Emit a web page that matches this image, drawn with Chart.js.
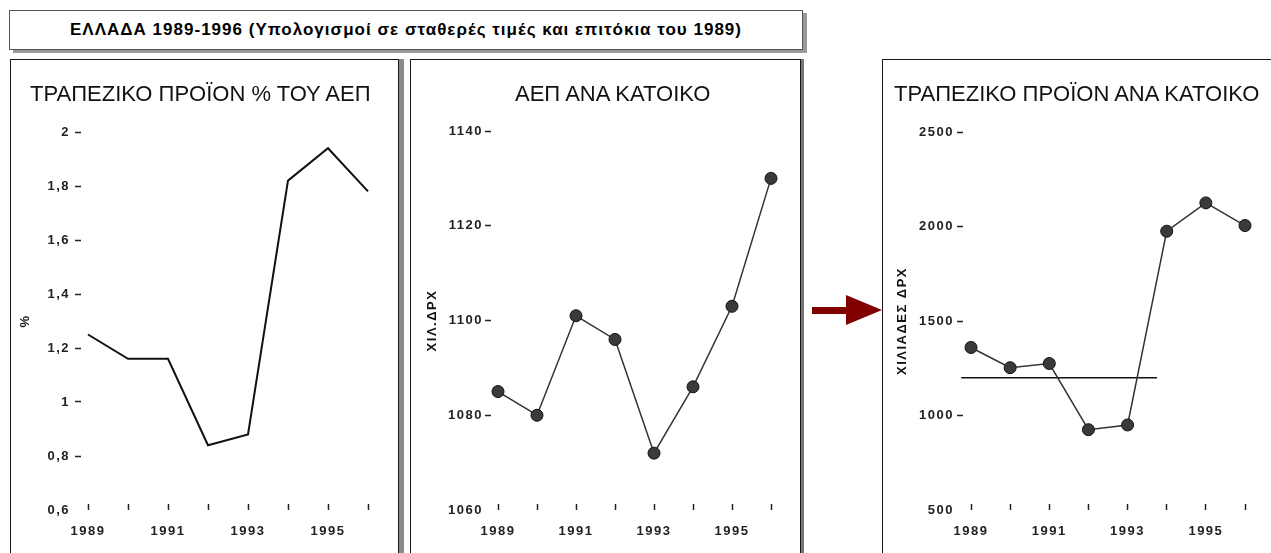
<!DOCTYPE html>
<html>
<head>
<meta charset="utf-8">
<script src="https://cdn.jsdelivr.net/npm/chart.js@4.4.1/dist/chart.umd.min.js"></script>
<style>
    body { margin: 0; width: 1271px; height: 553px; overflow: hidden; background: #fff; position: relative; font-family: Arial, "Liberation Sans", sans-serif; }
    .box { position: absolute; box-sizing: border-box; border: 1px solid #1a1a1a; background: #fff; }
    .box canvas { position: absolute; left: 0; top: 0; }
    #head { left: 9px; top: 10px; width: 794px; height: 40px; border-color: #555; box-shadow: 4px 3px 0 #999; }
    #head span { position: absolute; left: 50%; top: 50%; white-space: nowrap; font-weight: bold; font-size: 17px; letter-spacing: 1px; color: #000; }
    #p1 { left: 10px; top: 59px; width: 389px; height: 600px; box-shadow: 5px 0 0 #8a8a8a; }
    #p2 { left: 410px; top: 59px; width: 391px; height: 600px; box-shadow: 3px 0 0 #777; }
    #p3 { left: 882px; top: 59px; width: 420px; height: 600px; }
    .ptitle { position: absolute; top: 83px; line-height: 22px; font-size: 22px; color: #111; white-space: nowrap; }
    #arrow { position: absolute; left: 810px; top: 292px; }
</style>
</head>
<body>
<div class="box" id="head"><span id="headText">ΕΛΛΑΔΑ 1989-1996 (Υπολογισμοί σε σταθερές τιμές και επιτόκια του 1989)</span></div>
<div class="box" id="p1"><canvas id="c1" width="387" height="493"></canvas></div>
<div class="box" id="p2"><canvas id="c2" width="389" height="493"></canvas></div>
<div class="box" id="p3"><canvas id="c3" width="388" height="493"></canvas></div>
<div class="ptitle" style="left:30px">ΤΡΑΠΕΖΙΚΟ ΠΡΟΪΟΝ % ΤΟΥ ΑΕΠ</div>
<div class="ptitle" style="left:515px">ΑΕΠ ΑΝΑ ΚΑΤΟΙΚΟ</div>
<div class="ptitle" style="left:894px">ΤΡΑΠΕΖΙΚΟ ΠΡΟΪΟΝ ΑΝΑ ΚΑΤΟΙΚΟ</div>
<svg id="arrow" width="74" height="36">
    <polygon points="2,15 36,15 36,3 72,18 36,33 36,22 2,22" fill="#800000" />
</svg>
<script>
// data
const years = [1989, 1990, 1991, 1992, 1993, 1994, 1995, 1996];
const yearLabels = ["1989", "", "1991", "", "1993", "", "1995", ""];
const bankShareOfGdp = [1.25, 1.16, 1.16, 0.84, 0.88, 1.82, 1.94, 1.78];
const gdpPerCapita = [1085, 1080, 1101, 1096, 1072, 1086, 1103, 1130];
const bankPerCapita = [1360, 1253, 1275, 925, 950, 1975, 2125, 2005];
const refLineYears = [1988.75, 1993.75];
const refLineValue = 1200;

// squeeze the heading into the box
const head = document.getElementById("headText");
const hw = head.getBoundingClientRect().width;
head.style.transform = `translate(-50%, -50%) scaleX(${672 / hw})`;

const spacing = {
    id: "spacing",
    beforeDraw(chart) { chart.ctx.letterSpacing = "1.5px"; },
    afterDraw(chart) { chart.ctx.letterSpacing = "0px"; },
};

const tickFont = { family: "Arial, 'Liberation Sans'", size: 13, weight: "bold" };

function pts(xs, ys) {
    return xs.map((x, i) => ({ x, y: ys[i] }));
}

function makeChart(id, o) {
    return new Chart(document.getElementById(id), {
        type: "line",
        data: { datasets: o.datasets },
        plugins: [spacing],
        options: {
            responsive: false,
            animation: false,
            events: [],
            layout: { padding: { top: o.top, right: o.right, bottom: 0, left: 0 } },
            plugins: { legend: { display: false }, tooltip: { enabled: false } },
            scales: {
                x: {
                    type: "linear",
                    min: 1989,
                    max: 1996,
                    afterFit: (s) => { s.height = 43; },
                    border: { display: false },
                    grid: {
                        drawOnChartArea: false,
                        drawTicks: true,
                        tickLength: -6,
                        tickWidth: 1.5,
                        tickColor: "#222",
                    },
                    ticks: {
                        stepSize: 1,
                        autoSkip: false,
                        maxRotation: 0,
                        padding: 20,
                        color: "#222",
                        font: tickFont,
                        callback: (v) => yearLabels[years.indexOf(v)] ?? "",
                    },
                },
                y: {
                    min: o.min,
                    max: o.max,
                    afterFit: (s) => { s.width = o.left; },
                    border: { display: false },
                    grid: {
                        drawOnChartArea: false,
                        drawTicks: true,
                        tickLength: o.tl,
                        tickWidth: 1.5,
                        tickBorderDash: [6, 30],
                        tickColor: (c) => (c.index === 0 ? "rgba(0,0,0,0)" : "#222"),
                    },
                    ticks: {
                        stepSize: o.step,
                        padding: o.pad,
                        color: "#222",
                        font: tickFont,
                        callback: o.fmt,
                    },
                    title: {
                        display: true,
                        text: o.yTitle,
                        color: "#111",
                        padding: { top: o.titlePad, bottom: 0 },
                        font: { family: "Arial, 'Liberation Sans'", size: 13, weight: "bold" },
                    },
                },
            },
        },
    });
}

const lineStyle = {
    borderColor: "#333",
    borderWidth: 1.5,
    pointRadius: 6,
    pointBackgroundColor: "#3a3a3a",
    pointBorderColor: "#111",
    pointBorderWidth: 1,
    clip: false,
};

makeChart("c1", {
    datasets: [{ data: pts(years, bankShareOfGdp), borderColor: "#111", borderWidth: 2, pointRadius: 0, clip: false }],
    min: 0.6, max: 2, step: 0.2,
    fmt: (v) => String(Number(v.toFixed(1))).replace(".", ","),
    top: 72, right: 30, left: 77, tl: 13, pad: 5,
    yTitle: "%", titlePad: 6.2,
});

makeChart("c2", {
    datasets: [{ data: pts(years, gdpPerCapita), ...lineStyle }],
    min: 1060, max: 1140, step: 20,
    fmt: (v) => String(v),
    top: 71, right: 29, left: 87, tl: 13, pad: 2,
    yTitle: "ΧΙΛ.ΔΡΧ", titlePad: 13.2,
});

makeChart("c3", {
    datasets: [
        { data: pts(years, bankPerCapita), ...lineStyle },
        {
            data: pts(refLineYears, refLineYears.map(() => refLineValue)),
            borderColor: "#111",
            borderWidth: 1.5,
            pointRadius: 0,
            clip: false,
        },
    ],
    min: 500, max: 2500, step: 500,
    fmt: (v) => String(v),
    top: 72, right: 26, left: 88, tl: 14, pad: 3,
    yTitle: "ΧΙΛΙΑΔΕΣ ΔΡΧ", titlePad: 11.2,
});
</script>
</body>
</html>
